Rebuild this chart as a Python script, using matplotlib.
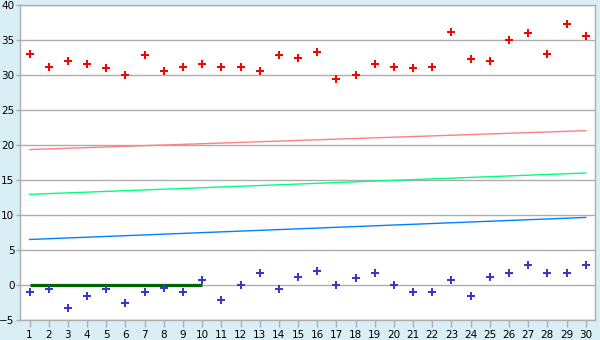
import matplotlib
matplotlib.use("Agg")
import matplotlib.pyplot as plt
import numpy as np

# data
categories = list(range(1, 31))
red_points = [33.0, 31.2, 32.0, 31.7, 31.0, 30.0, 32.85, 30.7, 31.15, 31.7,
              31.15, 31.15, 30.7, 32.85, 32.55, 33.4, 29.55, 30.0, 31.7, 31.15,
              31.0, 31.15, 36.15, 32.3, 32.0, 35.0, 36.0, 33.0, 37.3, 35.7]
blue_points = [-1.0, -0.55, -3.3, -1.55, -0.55, -2.55, -1.0, -0.4, -1.0, 0.7,
               -2.15, 0.0, 1.7, -0.55, 1.15, 2.0, 0.0, 1.0, 1.7, 0.0,
               -1.0, -1.0, 0.7, -1.55, 1.15, 1.7, 2.85, 1.7, 1.7, 2.85]
# straight trend lines: value at first and last category
trend_x = [1, 30]
red_trend = [19.4, 22.1]
green_trend = [13.0, 16.05]
blue_trend = [6.55, 9.7]
# thick zero segment over the first ten categories
zero_x = [1, 10]
zero_y = [0, 0]

bg = "#DAEEF5"
grid_c = "#ADADAD"

fig = plt.figure(figsize=(6, 3.4), dpi=100, facecolor=bg)
ax = fig.add_axes([0.0333, 0.058, 0.9589, 0.926])
ax.set_facecolor("white")

ax.plot(trend_x, red_trend, color="#FF8080", lw=1.0)
ax.plot(trend_x, green_trend, color="#00FF80", lw=1.0)
ax.plot(trend_x, blue_trend, color="#0080FF", lw=1.0)
ax.plot(zero_x, zero_y, color="#006400", lw=2.3, solid_capstyle="butt")
ax.plot(categories, red_points, ls="none", marker="P", ms=5.3, color="#FF0000", mew=0)
ax.plot(categories, blue_points, ls="none", marker="P", ms=5.3, color="#3838CC", mew=0)

ax.set_xlim(0.5, 30.5)
ax.set_ylim(-5, 40)
ax.set_yticks(np.arange(-5, 41, 5))
ax.set_xticks(categories)
ax.yaxis.grid(True, color=grid_c, lw=1.0)
ax.set_axisbelow(True)
for s in ax.spines.values():
    s.set_color(grid_c)
    s.set_linewidth(1.0)
ax.tick_params(axis="x", direction="out", length=5, width=1, color=grid_c,
               labelsize=7.5, pad=2)
ax.tick_params(axis="y", direction="out", length=3, width=1, color=grid_c,
               labelsize=7.5, pad=1)

fig.savefig("out.png", dpi=100, facecolor=bg)
